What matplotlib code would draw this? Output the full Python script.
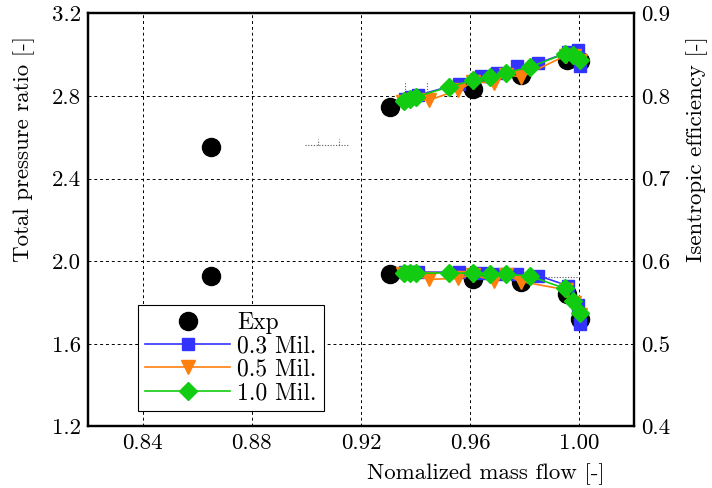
import matplotlib
matplotlib.use('Agg')
import matplotlib.pyplot as plt

plt.rcParams['font.family'] = ['cmr10', 'DejaVu Serif']
plt.rcParams['mathtext.fontset'] = 'cm'
plt.rcParams['axes.formatter.use_mathtext'] = True
plt.rcParams['font.size'] = 16.5

# experiment
exp_mf = [0.865, 0.9307, 0.961, 0.9785, 0.9955, 1.0003]
exp_pr = [1.928, 1.937, 1.912, 1.901, 1.840, 1.719]
exp_eff_mf = [0.865, 0.9307, 0.961, 0.9785, 0.9955, 1.0003]
exp_eff = [0.738, 0.787, 0.809, 0.825, 0.844, 0.842]

# 0.3 Mil.
mf_03 = [0.9360, 0.9385, 0.9410, 0.9560, 0.9640, 0.9700, 0.9770, 0.9850, 0.9960, 0.9995, 1.0003]
pr_03 = [1.950, 1.950, 1.948, 1.946, 1.942, 1.938, 1.936, 1.930, 1.880, 1.790, 1.695]
eff_03 = [0.796, 0.799, 0.801, 0.815, 0.824, 0.828, 0.836, 0.840, 0.853, 0.856, 0.836]

# 0.5 Mil.
mf_05 = [0.9355, 0.9380, 0.9449, 0.9555, 0.9610, 0.9686, 0.9730, 0.9788, 0.9950, 0.9980, 1.0003]
pr_05 = [1.940, 1.940, 1.912, 1.917, 1.935, 1.906, 1.935, 1.901, 1.862, 1.800, 1.740]
eff_05 = [0.793, 0.795, 0.795, 0.807, 0.817, 0.816, 0.826, 0.823, 0.849, 0.848, 0.842]

# 1.0 Mil.
mf_10 = [0.9357, 0.9381, 0.9403, 0.9522, 0.9610, 0.9672, 0.9730, 0.9818, 0.9946, 0.9975, 1.0004]
pr_10 = [1.941, 1.941, 1.941, 1.944, 1.941, 1.937, 1.937, 1.928, 1.869, 1.807, 1.748]
eff_10 = [0.794, 0.796, 0.799, 0.811, 0.819, 0.823, 0.828, 0.835, 0.851, 0.850, 0.844]

# small dotted bars
bar_pr_x = [0.8996, 0.9154]
bar_pr_y = 2.564
bar_pr_caps = [0.9041, 0.9121]
bar_pr_cap_top = 2.592
bar_eff_x = [0.9362, 0.9443]
bar_eff_lo, bar_eff_hi = 0.801, 0.8185
bar_pr2_x = [0.9843, 1.0002]
bar_pr2_y = 1.925

c_blue = '#3333ff'
c_orange = '#ff7f0e'
c_green = '#11cc11'

fig = plt.figure(figsize=(7.12, 4.88), dpi=100)
ax = fig.add_axes([0.1236, 0.1262, 0.7668, 0.8463])
ax2 = ax.twinx()

dot = dict(color='0.35', lw=0.8, ls=(0, (1, 1.5)))
ax.plot(bar_pr_x, [bar_pr_y, bar_pr_y], **dot)
for c in bar_pr_caps:
    ax.plot([c, c], [bar_pr_y, bar_pr_cap_top], **dot)
ax.plot(bar_pr2_x, [bar_pr2_y, bar_pr2_y], **dot)
for c in bar_eff_x:
    ax2.plot([c, c], [bar_eff_lo, bar_eff_hi], **dot)

h_exp, = ax.plot(exp_mf, exp_pr, 'o', color='black', ms=13, ls='none', label='Exp')
h03, = ax.plot(mf_03, pr_03, '-s', color=c_blue, ms=9, lw=1.2, label='0.3 Mil.')
h05, = ax.plot(mf_05, pr_05, '-v', color=c_orange, ms=10, lw=1.2, label='0.5 Mil.')
h10, = ax.plot(mf_10, pr_10, '-D', color=c_green, ms=9, lw=1.2, label='1.0 Mil.')

ax2.plot(exp_eff_mf, exp_eff, 'o', color='black', ms=13, ls='none')
ax2.plot(mf_03, eff_03, '-s', color=c_blue, ms=9, lw=1.2)
ax2.plot(mf_05, eff_05, '-v', color=c_orange, ms=10, lw=1.2)
ax2.plot(mf_10, eff_10, '-D', color=c_green, ms=9, lw=1.2)

ax.set_xlim(0.82, 1.02)
ax.set_ylim(1.2, 3.2)
ax2.set_ylim(0.4, 0.9)
ax.set_xticks([0.84, 0.88, 0.92, 0.96, 1.00])
ax.set_xticklabels(['0.84', '0.88', '0.92', '0.96', '1.00'])
ax.set_yticks([1.2, 1.6, 2.0, 2.4, 2.8, 3.2])
ax.set_yticklabels(['1.2', '1.6', '2.0', '2.4', '2.8', '3.2'])
ax2.set_yticks([0.4, 0.5, 0.6, 0.7, 0.8, 0.9])
ax2.set_yticklabels(['0.4', '0.5', '0.6', '0.7', '0.8', '0.9'])

ax.grid(True, color='black', ls=(0, (3, 3)), lw=0.7)
ax.set_axisbelow(True)
for a in (ax, ax2):
    a.tick_params(direction='in', length=0, pad=5)
    for s in a.spines.values():
        s.set_linewidth(1.6)

ax.set_xlabel('Nomalized mass flow [-]')
ax.set_ylabel('Total pressure ratio [-]')
ax2.set_ylabel('Isentropic efficiency [-]')
ax.xaxis.set_label_coords(0.729, -0.088)
ax.yaxis.set_label_coords(-0.097, 0.672)
ax2.yaxis.set_label_coords(1.095, 0.672)

leg = ax2.legend(handles=[h_exp, h03, h05, h10], loc='lower left',
                 bbox_to_anchor=(0.0916, 0.037), borderaxespad=0,
                 fancybox=False, edgecolor='black', framealpha=1,
                 handlelength=3.6, handletextpad=0.3, labelspacing=0.05,
                 borderpad=0.3, fontsize=17)
leg.get_frame().set_linewidth(0.8)

fig.savefig('out.png', dpi=100)
